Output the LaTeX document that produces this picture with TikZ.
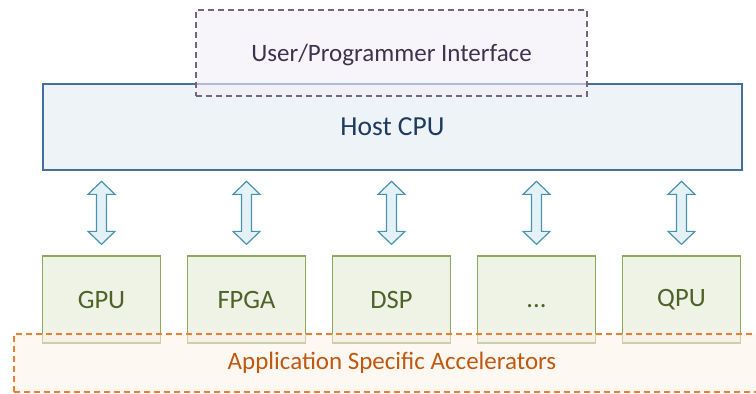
\documentclass[tikz,border=0pt]{standalone}
\usepackage{fontspec}
\setmainfont{Carlito}
\usetikzlibrary{calc}
\definecolor{hostfill}{HTML}{EEF3F8}
\definecolor{hostline}{HTML}{41719C}
\definecolor{hosttext}{HTML}{1F3A5F}
\definecolor{uifill}{HTML}{F4EEF6}
\definecolor{uiline}{HTML}{75657F}
\definecolor{uitext}{HTML}{3D3350}
\definecolor{accfill}{HTML}{EFF3E6}
\definecolor{accline}{HTML}{8FA860}
\definecolor{acctext}{HTML}{4F6228}
\definecolor{appfill}{HTML}{FDF2E8}
\definecolor{appline}{HTML}{ED7D31}
\definecolor{apptext}{HTML}{C0580F}
\definecolor{arrfill}{HTML}{E4F2F7}
\definecolor{arrline}{HTML}{4A93AE}
\begin{document}
\begin{tikzpicture}[x=1pt,y=-1pt,
  hostbox/.style={draw=hostline,line width=1.4pt,fill=hostfill,minimum width=699pt,minimum height=86pt,
    inner sep=0pt,text=hosttext,font=\fontsize{27.5}{32}\selectfont},
  uibox/.style={draw=uiline,line width=1.2pt,dash pattern=on 6pt off 4pt,fill=uifill,fill opacity=0.6,
    minimum width=391pt,minimum height=86pt,inner sep=0pt},
  uitxt/.style={text=uitext,font=\fontsize{25}{30}\selectfont},
  accbox/.style={draw=accline,line width=1.3pt,fill=accfill,minimum width=118pt,minimum height=87pt,
    inner sep=0pt,text=acctext,font=\fontsize{26.5}{30}\selectfont},
  appbox/.style={draw=appline,line width=1.3pt,dash pattern=on 6pt off 4pt,fill=appfill,fill opacity=0.55,
    minimum width=760pt,minimum height=58pt,inner sep=0pt},
  apptxt/.style={text=apptext,font=\fontsize{25}{30}\selectfont},
  blockarrow/.style={draw=arrline,line width=1.2pt,fill=arrfill,line join=miter}
]
\useasboundingbox (0,0) rectangle (756,394);

% host processor and the interface layer above it
\node[hostbox] (host) at (392.5,127) {Host CPU};
\node[uibox] (ui) at (391.5,53) {};
\node[uitxt] (uilabel) at (391.5,55) {User/Programmer Interface};

% accelerator devices
\node[accbox] (gpu)  at (101.5,299.5) {GPU};
\node[accbox] (fpga) at (246.5,299.5) {FPGA};
\node[accbox] (dsp)  at (391.5,299.5) {DSP};
\node[accbox] (more) at (536.5,299.5) {\vphantom{GPU}...};
\node[accbox] (qpu)  at (681.5,299.5) {QPU};

% common accelerator layer
\node[appbox] (app) at (394,363) {};
\node[apptxt] (applabel) at (392,363) {Application Specific Accelerators};

% two-way links between host and each device
\foreach \d in {gpu,fpga,dsp,more,qpu}{
  \draw[blockarrow,shift={(\d.north)}]
    (0,-74) -- (13.5,-61) -- (5,-61) -- (5,-24) -- (13.5,-24) -- (0,-11)
    -- (-13.5,-24) -- (-5,-24) -- (-5,-61) -- (-13.5,-61) -- cycle;
}
\end{tikzpicture}
\end{document}
